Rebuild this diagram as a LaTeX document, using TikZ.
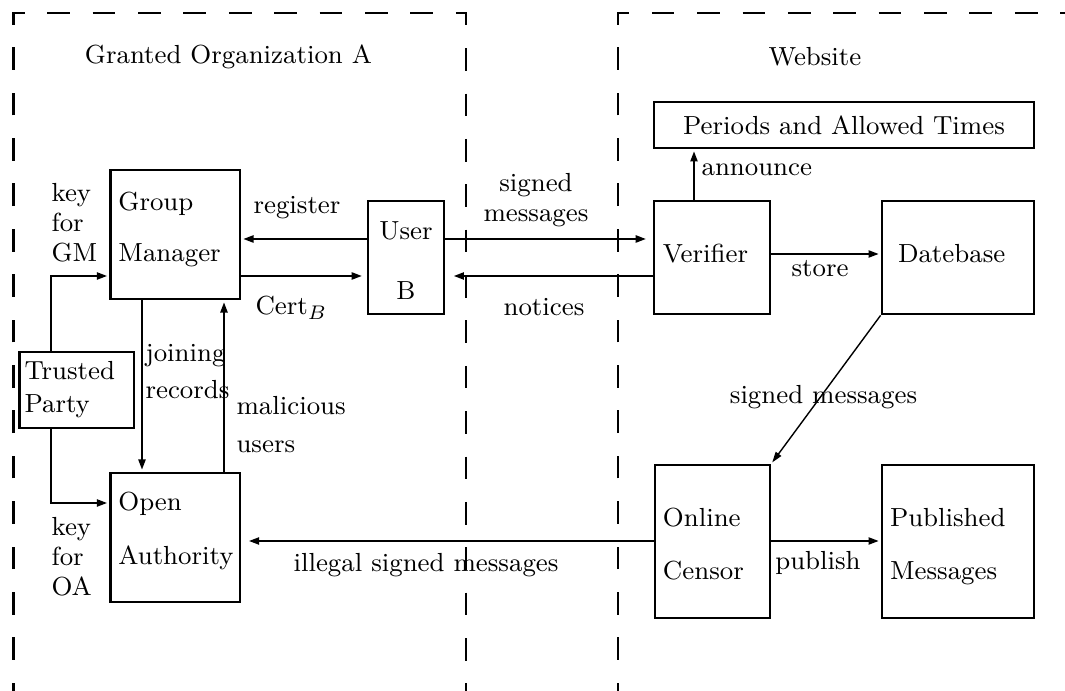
\documentclass[tikz,border=0pt]{standalone}
\usepackage{fontspec}
\usetikzlibrary{arrows.meta}
\tikzset{
	box/.style={draw, line width=1pt, align=left, inner xsep=0.1cm, inner ysep=0pt},
	arr/.style={line width=1pt, -{Triangle[length=3.8pt,width=2.4pt]}, shorten >=0.5pt},
	frame/.style={line width=1pt, dash pattern=on 8.07pt off 8.07pt, dash phase=5.1pt},
	txt/.style={align=left, inner sep=0pt, anchor=west},
}
% text of a box, lifted a bit without changing its size
\newcommand{\boxlines}[3][l]{\raisebox{#2}[\height][\depth]{\begin{tabular}{@{}#1@{}}#3\end{tabular}}}

\begin{document}
\begin{tikzpicture}[font=\fontsize{9.3}{10.7}\selectfont]
	%%%%% START %%%%%
	\useasboundingbox (0, 0) rectangle (13.3125, 8.6375);

	% the two dashed areas
	\draw[frame] (0.17, 0) -- (0.17, 8.475) -- (5.825, 8.475) -- (5.825, 0);
	\draw[frame] (7.725, 0) -- (7.725, 8.475) -- (13.3125, 8.475);

	\node (orga) at (2.856, 7.925) {Granted Organization A};
	\node (web) at (10.1875, 7.925) {Website};

	% organization side
	\node[box, text width=1.42cm, minimum height=1.6125cm] (gm) at (2.19, 5.706) {\boxlines{1.7pt}{Group\\[7.5pt]Manager}};
	\node[box, text width=1.42cm, minimum height=1.6125cm] (oa) at (2.19, 1.919) {\boxlines{2.1pt}{Open\\[8.5pt]Authority}};
	\node[box, inner xsep=0.0625cm, text width=1.305cm, minimum height=0.95cm] (tp) at (0.959, 3.7625) {\boxlines{0pt}{Trusted\\[0.7pt]Party}};
	\node[box, align=center, text width=0.75cm, minimum height=1.4125cm] (user) at (5.075, 5.419) {\boxlines[c]{-2.1pt}{User\\[10.7pt]B}};

	% website side
	\node[box, align=center, text width=4.55cm, minimum height=0.575cm] (per) at (10.55, 7.075) {Periods and Allowed Times};
	\node[box, inner xsep=0.11cm, text width=1.23cm, minimum height=1.4125cm] (ver) at (8.9, 5.419) {\boxlines{0.5pt}{Verifier}};
	\node[box, inner xsep=0.2cm, text width=1.5cm, minimum height=1.4125cm] (db) at (11.975, 5.419) {\boxlines{0.5pt}{Datebase}};
	\node[box, text width=1.2375cm, minimum height=1.9125cm] (oc) at (8.906, 1.869) {\boxlines{-2pt}{Online\\[8.2pt]Censor}};
	\node[box, text width=1.7cm, minimum height=1.9125cm] (pm) at (11.975, 1.869) {\boxlines{-2pt}{Published\\[8.2pt]Messages}};

	% levels of the connectors
	\coordinate (hi) at (0, 5.65);
	\coordinate (lo) at (0, 5.1875);
	\coordinate (st) at (0, 5.4625);
	\coordinate (pub) at (0, 1.875);
	\coordinate (kgm) at (0.6375, 5.1875);
	\coordinate (koa) at (0.6375, 2.35);
	\coordinate (jr) at (1.775, 0);
	\coordinate (mu) at (2.8, 0);
	\coordinate (an) at (8.675, 0);

	\draw[arr] (user.west |- hi) -- (gm.east |- hi);
	\draw[arr, shorten >=1.5pt] (gm.east |- lo) -- (user.west |- lo);
	\draw[arr, shorten >=2.2pt] (user.east |- hi) -- (ver.west |- hi);
	\draw[arr, shorten >=2.8pt] (ver.west |- lo) -- (user.east |- lo);
	\draw[arr] (tp.north -| kgm) |- (gm.west |- kgm);
	\draw[arr] (tp.south -| koa) |- (oa.west |- koa);
	\draw[arr] (gm.south -| jr) -- (oa.north -| jr);
	\draw[arr] (oa.north -| mu) -- (gm.south -| mu);
	\draw[arr] (ver.north -| an) -- (per.south -| an);
	\draw[arr] (ver.east |- st) -- (db.west |- st);
	\draw[arr] (oc.east |- pub) -- (pm.west |- pub);
	\draw[arr, shorten >=2.5pt] (oc.west |- pub) -- (oa.east |- pub);
	\draw[arr, line width=0.5pt] (db.south west) -- (oc.north east);

	% labels of the connectors
	\node[txt] (kgmtxt) at (0.6375, 5.85) {key\\for\\GM};
	\node[txt] (koatxt) at (0.6375, 1.675) {key\\for\\OA};
	\node[txt] (jrtxt) at (1.8125, 3.994) {joining\\[2.5pt]records};
	\node[txt] (mutxt) at (2.95, 3.331) {malicious\\[2.5pt]users};
	\node (regtxt) at (3.7125, 6.0375) {register};
	\node[txt] (certtxt) at (3.1875, 4.7875) {Cert$_B$};
	\node[align=center] (sigtxt) at (6.7, 6.131) {signed\\messages};
	\node (nottxt) at (6.8, 4.8) {notices};
	\node[txt] (antxt) at (8.7625, 6.5125) {announce};
	\node (sttxt) at (10.25, 5.275) {store};
	\node (dbtxt) at (10.294, 3.675) {signed messages};
	\node (pubtxt) at (10.225, 1.6) {publish};
	\node[txt] (illtxt) at (3.6625, 1.575) {illegal signed messages};

	%%%%% END %%%%%
\end{tikzpicture}
\end{document}
